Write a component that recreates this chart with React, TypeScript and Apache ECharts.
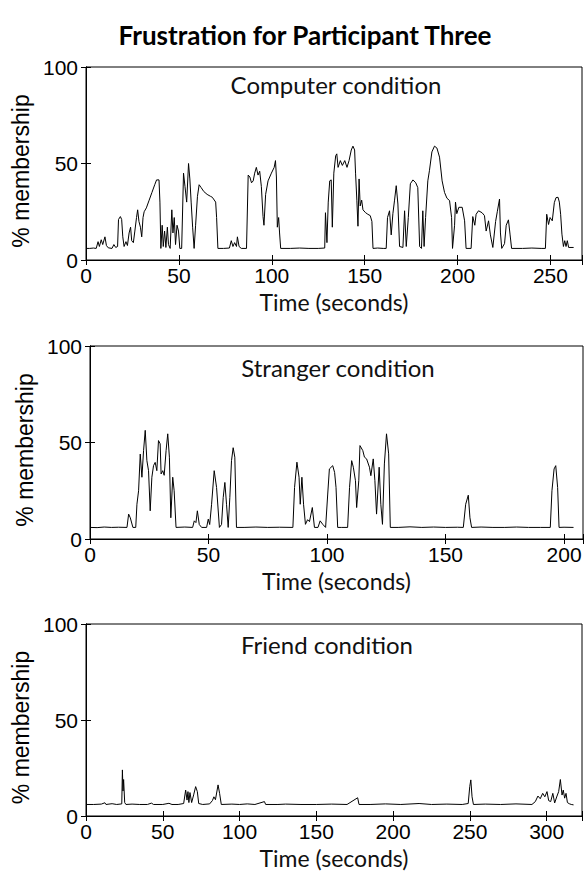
import { useEffect, useRef } from "react";
import * as echarts from "echarts";

const mainTitle = "Frustration for Participant Three";
const panelTitles = ["Computer condition", "Stranger condition", "Friend condition"];
const xAxisName = "Time (seconds)";
const yAxisName = "% membership";
const xMax = [267, 208, 323];
const yTicks = [0, 50, 100];

const computerData: [number, number][] = [
  [0,6],[2,6],[4,6.2],[5.5,6],[6.5,9.5],[7.2,7],[8.2,10.5],[9,8],[10.2,12],[11,7.5],[12,6.3],[14,6],[15,8],[16,6.5],[17,7],[17.5,21],[18.5,22.5],[19.2,21],[19.8,12],[20.5,7],[21.5,9.5],[22.3,7.5],[23.2,14],[24,17],[24.6,10],[25.5,9],[26.3,15],[27.2,22],[27.8,26],[28.5,20],[29.3,17],[30,12],[30.7,22],[31.3,25],[32.5,27],[34,31],[35.5,35],[37,39],[38,41.5],[39.3,41.5],[39.8,30],[40.3,6],[41,18],[41.6,7],[42.3,15],[43,6.5],[43.8,17],[44.4,8],[45.3,6],[46.2,26],[46.8,14],[47.5,22],[48.2,8],[49,18],[49.8,15],[50.5,6],[51.5,6],[52.5,45],[53.3,38],[54.2,30],[55.2,50],[55.9,42],[56.6,30],[57.4,17],[58.2,6],[59,18],[60,33],[60.9,39],[62,37.5],[63.4,35.5],[65.2,34],[67,33],[68,32.5],[69.8,30],[70.3,22],[71,6],[74,6],[77.2,6.2],[78.2,10],[79.1,7],[80,9],[81,7],[81.5,12],[82.4,7],[83.6,6],[86.4,6],[87.3,44],[88.2,43],[89.1,40],[90,41],[90.8,45],[91.7,48],[92.6,44],[93.5,46],[94.4,38],[95.3,22.5],[95.8,18],[96.7,34],[98,41],[99.8,45],[101.3,48],[102,51.5],[102.5,43],[103,17],[103.7,22],[104.2,14],[104.8,6],[110,6],[115,6.2],[120,6],[125,6],[128.5,6.2],[128.9,24.5],[129.7,9],[130.4,30],[131.2,41],[132,41.5],[132.6,17],[133.4,45],[134.4,54],[135,55],[135.7,48],[136.9,51.5],[138,49],[139.3,51.5],[140.5,48],[141.6,51.5],[142.8,57],[143.7,59],[144.6,57],[145.1,45],[145.8,31],[146.4,17.5],[147,42],[147.6,28],[148.4,31],[149.1,26],[150.5,24.5],[151.7,23.7],[153,23],[153.9,20],[154.5,6],[157,6.2],[160,6],[161.6,6],[162.3,22],[163.4,25.5],[164.3,13],[165.2,24],[166.1,31],[167,38.5],[167.9,29],[168.8,7],[170.6,6.5],[171.5,25.5],[172.4,7],[173.5,22],[174.6,39.5],[176,41.5],[177.5,40],[178.6,37.5],[179.6,7],[180.6,6],[181.3,25.5],[182,7],[182.8,22],[184,41],[184.9,46.5],[186.2,56],[187.6,59],[188.9,58],[190.3,53.3],[191.7,41],[193,35],[194.3,32],[195.7,30.8],[196.8,22],[197.3,6],[198.4,18],[198.9,30],[199.6,24],[200.7,27.3],[202.5,27.3],[203.8,20.3],[204.6,6],[207.3,6],[208.2,22.5],[209.3,18],[210,23.7],[211.3,25.5],[213.2,24.5],[214.5,23],[215.4,15],[216.7,20.3],[217.7,13],[219,6.5],[220.5,20],[221.4,25],[222.6,31.6],[223.1,14],[223.8,6],[225.3,8.5],[226.2,18],[227.4,20.8],[228.3,13],[229.1,6],[235,6],[240,6.2],[245,6],[247.3,6],[248,23.7],[249,18.4],[249.8,22],[251,20.3],[252.1,29.7],[253,32.3],[254.1,32.5],[254.8,30],[255.5,23.7],[256.2,13.4],[257,7],[257.7,10],[258.4,7],[259.1,10],[259.8,6.5],[262.5,6.5]
];

const strangerData: [number, number][] = [
  [0,6],[3,5.9],[6,6.2],[9,6],[12,6.1],[15.6,6],[16.3,12.9],[17,11],[18.1,6],[19.3,6],[19.8,18],[20.5,25],[21.2,44],[21.9,32],[22.6,45.8],[23.3,56.3],[24,40.6],[24.7,35.4],[25.4,14.6],[26.1,32],[26.8,38],[27.5,39.7],[28.2,35.4],[28.9,51],[29.6,49.3],[30,33.7],[30.7,35.4],[31.3,33],[32.1,45.8],[32.8,54.5],[33.5,42.4],[34.1,11],[34.9,32],[35.5,25],[36.3,6],[40,6.2],[43.3,6],[44,9.4],[44.7,8.5],[45.3,14.6],[46.1,7.5],[47.1,6],[49.2,6],[49.9,10.3],[50.5,7.5],[51.3,18],[52.4,35.4],[53.4,26.7],[54.6,6],[55.5,7.5],[56.2,21.5],[56.9,29.3],[57.6,18],[58.3,6],[59,21.5],[59.7,40.6],[60.4,47.3],[61.1,42.4],[61.8,6],[65,6],[70,6.2],[75,6],[80,6.1],[85.6,6],[86.3,26.7],[87.3,39.8],[88.2,32],[88.7,18],[89.4,32],[90.1,18],[90.9,7.6],[91.8,10],[92.6,9],[93.8,16.3],[94.7,6],[96.2,6],[97.1,9.4],[98.2,7.6],[99.4,6],[100.3,23.3],[101,36.3],[102.4,38],[103.2,34.5],[103.8,26.7],[104.5,6],[106,6],[108.7,6],[109.5,26.7],[110.4,40.6],[111.1,37.2],[112,30.2],[112.5,16.3],[113.4,30.2],[113.9,48.4],[115.1,45.8],[115.8,42.4],[116.7,41.5],[117.9,37.2],[118.5,32.8],[119.5,41.5],[120.2,30.2],[120.9,12.9],[122,37.2],[122.7,18],[123.4,7.6],[124.2,38.9],[125.1,54.5],[126,44.1],[126.7,6],[130,6],[135,6.3],[140,6],[145,6.2],[150,6],[155,6.1],[157.5,6],[158.5,18],[159.6,22.7],[160.3,11],[161,6],[165,6.2],[170,6],[175,6],[180,6.2],[185,6],[190,6],[194.2,6],[194.9,25],[195.8,36.3],[196.5,38],[197.3,26.7],[197.9,6],[200,6.1],[204,6]
];

const friendData: [number, number][] = [
  [0,6],[5,6],[10,6.2],[12.3,6.9],[13,6],[17,6.4],[20,6],[23.3,6.3],[23.7,24],[24.1,13],[24.5,19],[25.2,7],[26,6],[30,6.2],[35,6],[40,6],[42.6,6.7],[44,6],[50,6],[54,6.6],[56,6],[60,6],[63.6,6.5],[64.9,13.5],[65.8,8.3],[66.4,12.7],[67,7],[67.7,12.2],[68.8,7],[70.1,11],[71.4,15.3],[72.5,12.7],[73.4,6.5],[76,6],[80.5,6.3],[82.3,8],[83.3,10],[84.3,8.5],[86,16.2],[87,11.8],[88.1,6],[95,6.2],[100,6],[105,6.3],[110,6],[116.2,7.5],[117,6],[125,6],[130,6.2],[140,6],[150,6],[160,6.2],[170,6],[176.9,9.5],[177.8,6],[185,6],[195,6.3],[205,6],[216.9,6.5],[225,6],[235,6.2],[245,6],[248.9,6.5],[249.9,15.3],[250.6,18.8],[251.4,10],[252.3,6],[260,6.2],[270,6],[280,6.3],[290.4,6],[292.6,7.5],[294.3,10.4],[295.8,9],[297.4,11.8],[298.8,10],[300.2,12.7],[301.3,8],[302.6,7.5],[304,11.8],[305.2,6.8],[306.5,9.9],[307.8,12.7],[308.9,19],[310,10.9],[310.8,13.5],[311.7,9.3],[312.6,11.8],[313.5,7],[314.7,6.4],[316,6],[317.5,5.8]
];

const seriesData = [computerData, strangerData, friendData];

const grids = [
  { left: 86, top: 67, width: 496, height: 193 },
  { left: 90, top: 346, width: 494, height: 193 },
  { left: 86, top: 624, width: 496, height: 192 },
];

const tickFont = "'Liberation Sans', Arial, sans-serif";
const textFont = "Lato, 'Noto Sans', sans-serif";

export default function App() {
  const ref = useRef<HTMLDivElement>(null);
  useEffect(() => {
    document.body.style.margin = "0";
    if (!ref.current) return;
    const chart = echarts.init(ref.current, null, { renderer: "svg" });
    const xAxes: any[] = [];
    const yAxes: any[] = [];
    const series: any[] = [];
    grids.forEach((g, i) => {
      const common = {
        gridIndex: i,
        type: "value",
        min: 0,
        max: xMax[i],
        interval: 50,
        splitLine: { show: false },
        axisLine: { show: true, lineStyle: { color: "#000", width: 1 } },
        axisTick: { show: true, inside: true, length: 5, lineStyle: { color: "#000" } },
      };
      xAxes.push({
        ...common,
        position: "bottom",
        name: xAxisName,
        nameLocation: "middle",
        nameGap: 30,
        nameTextStyle: { fontFamily: textFont, fontSize: 23, color: "#111", lineHeight: 23 },
        axisLabel: {
          margin: 4,
          fontFamily: tickFont,
          fontSize: 21,
          lineHeight: 22,
          color: "#000",
          formatter: (v: number) => (v % 50 === 0 ? String(v) : ""),
        },
      });
      xAxes.push({ ...common, position: "top", axisLabel: { show: false } });
      const yCommon = {
        gridIndex: i,
        type: "value",
        min: yTicks[0],
        max: yTicks[yTicks.length - 1],
        interval: 50,
        splitLine: { show: false },
        axisLine: { show: true, lineStyle: { color: "#000", width: 1 } },
        axisTick: { show: true, inside: true, length: 5, lineStyle: { color: "#000" } },
      };
      yAxes.push({
        ...yCommon,
        position: "left",
        name: yAxisName,
        nameLocation: "middle",
        nameGap: 44,
        nameTextStyle: { fontFamily: tickFont, fontSize: 23, color: "#000", padding: [0, 15, 0, 0] },
        axisLabel: { margin: 8, fontFamily: tickFont, fontSize: 21, color: "#000" },
      });
      yAxes.push({ ...yCommon, position: "right", axisLabel: { show: false } });
      series.push({
        type: "line",
        xAxisIndex: i * 2,
        yAxisIndex: i * 2,
        data: seriesData[i],
        showSymbol: false,
        symbol: "none",
        lineStyle: { color: "#000", width: 1 },
        clip: true,
      });
    });

    const labelPos = [
      { x: 336, y: 72 },
      { x: 338, y: 355 },
      { x: 327, y: 632 },
    ];

    chart.setOption({
      animation: false,
      backgroundColor: "#fff",
      title: [
        {
          text: mainTitle,
          left: 300,
          top: 17,
          textAlign: "center",
          textStyle: { fontFamily: textFont, fontWeight: "bold", fontSize: 26, color: "#000" },
        },
        ...panelTitles.map((t, i) => ({
          text: t,
          left: labelPos[i].x,
          top: labelPos[i].y,
          textAlign: "center",
          padding: 0,
          textStyle: { fontFamily: textFont, fontWeight: "normal", fontSize: 24, color: "#111" },
        })),
      ],
      grid: grids.map((g) => ({ ...g, show: true, borderColor: "#000", borderWidth: 1, backgroundColor: "#fff" })),
      xAxis: xAxes,
      yAxis: yAxes,
      series,
    });
    return () => chart.dispose();
  }, []);
  return <div ref={ref} style={{ width: 586, height: 873 }} />;
}
